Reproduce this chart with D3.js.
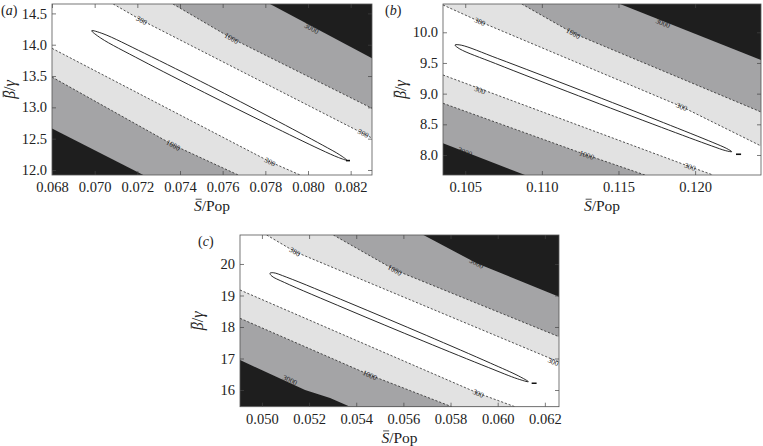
<!DOCTYPE html>
<html>
<head>
<meta charset="utf-8">
<script src="https://cdn.jsdelivr.net/npm/d3@7"></script>
<style>
body { margin: 0; background: #fff; }
</style>
</head>
<body>
<div id="fig"></div>
<script>
var svgWidth = 763;
var svgHeight = 446;
var serif = '"Liberation Serif", "Times New Roman", serif';

// ---------- panel (a) ----------
var xTicksA = [0.068, 0.070, 0.072, 0.074, 0.076, 0.078, 0.080, 0.082];
var yTicksA = [12.0, 12.5, 13.0, 13.5, 14.0, 14.5];
var xLimA = [0.068, 0.083];
var yLimA = [11.92, 14.65];
var lower3000A = [[0.068, 12.664], [0.07228, 11.92]];
var lower1000A = [[0.068, 13.484], [0.07369, 12.398], [0.07673, 11.92]];
var lower300A = [[0.068, 13.942], [0.07822, 12.131], [0.07963, 11.92]];
var upper300A = [[0.07087, 14.65], [0.07220, 14.39], [0.083, 12.51]];
var upper1000A = [[0.07367, 14.65], [0.07642, 14.102], [0.083, 12.984]];
var upper3000A = [[0.07822, 14.65], [0.083, 13.783]];
var ellipseA = [[0.069861, 14.2235], [0.070391, 14.1756], [0.072331, 13.864], [0.075331, 13.3529],
  [0.078303, 12.8289], [0.080670, 12.3992], [0.081491, 12.2411], [0.081814, 12.158],
  [0.081425, 12.1995], [0.080567, 12.3289], [0.078153, 12.7267], [0.075153, 13.2347],
  [0.072172, 13.7554], [0.070288, 14.1053]];
var markA = [[0.08178, 12.15], [0.08197, 12.15]];
var labelsA = [["300", 0.07220, 14.39, "upper300"], ["1000", 0.07642, 14.102, "upper1000"],
  ["3000", 0.08017, 14.262, "upper3000"], ["300", 0.08259, 12.585, "upper300"],
  ["1000", 0.07369, 12.398, "lower1000"], ["300", 0.07822, 12.131, "lower300"]];

// ---------- panel (b) ----------
var xTicksB = [0.105, 0.110, 0.115, 0.120];
var yTicksB = [8.0, 8.5, 9.0, 9.5, 10.0];
var xLimB = [0.10355, 0.1243];
var yLimB = [7.674, 10.461];
var lower3000B = [[0.10355, 8.191], [0.10890, 7.674]];
var lower1000B = [[0.10355, 8.843], [0.11293, 8.000], [0.11673, 7.674]];
var lower300B = [[0.10355, 9.304], [0.11967, 7.809], [0.12117, 7.674]];
var upper300B = [[0.10355, 10.445], [0.10596, 10.173], [0.11913, 8.787], [0.1243, 8.147]];
var upper1000B = [[0.10869, 10.461], [0.11205, 9.984], [0.1243, 8.701]];
var upper3000B = [[0.1151, 10.461], [0.1243, 9.548]];
var ellipseB = [[0.10433, 9.793], [0.10474, 9.790], [0.10711, 9.574], [0.11253, 9.056],
  [0.11793, 8.528], [0.12116, 8.204], [0.12206, 8.106], [0.12239, 8.054],
  [0.12200, 8.070], [0.12108, 8.148], [0.11781, 8.450], [0.11239, 8.965],
  [0.10698, 9.490], [0.10465, 9.728]];
var markB = [[0.12267, 8.012], [0.12300, 8.012]];
var labelsB = [["300", 0.10596, 10.173, "upper300"], ["1000", 0.11205, 9.984, "upper1000"],
  ["3000", 0.11791, 10.151, "upper3000"], ["300", 0.11913, 8.787, "upper300"],
  ["300", 0.10596, 9.059, "lower300"], ["1000", 0.11293, 8.000, "lower1000"],
  ["300", 0.11967, 7.809, "lower300"], ["3000", 0.10499, 8.052, "lower3000"]];

// ---------- panel (c) ----------
var xTicksC = [0.050, 0.052, 0.054, 0.056, 0.058, 0.060, 0.062];
var yTicksC = [16, 17, 18, 19, 20];
var xLimC = [0.04907, 0.0626];
var yLimC = [15.47, 20.92];
var lower3000C = [[0.04907, 16.952], [0.05183, 15.999], [0.05289, 15.745], [0.05374, 15.47]];
var lower1000C = [[0.04907, 18.276], [0.05458, 16.476], [0.05805, 15.47]];
var lower300C = [[0.04907, 19.174], [0.05918, 15.895], [0.06073, 15.47]];
var upper300C = [[0.05020, 20.92], [0.05140, 20.39], [0.0626, 16.888]];
var upper1000C = [[0.05303, 20.92], [0.05564, 19.809], [0.0626, 17.691]];
var upper3000C = [[0.05685, 20.92], [0.05911, 20.022], [0.0626, 18.961]];
var ellipseC = [[0.05034, 19.704], [0.05048, 19.723], [0.05105, 19.580], [0.05369, 18.771],
  [0.05697, 17.736], [0.05970, 16.850], [0.06089, 16.444], [0.06130, 16.263],
  [0.06084, 16.355], [0.05962, 16.710], [0.05687, 17.545], [0.05357, 18.574],
  [0.05095, 19.415], [0.05042, 19.615]];
var markC = [[0.06144, 16.212], [0.06165, 16.212]];
var labelsC = [["300", 0.05140, 20.39, "upper300"], ["1000", 0.05564, 19.809, "upper1000"],
  ["3000", 0.05911, 20.022, "upper3000"], ["300", 0.06236, 16.898, "upper300"],
  ["1000", 0.05458, 16.476, "lower1000"], ["300", 0.05918, 15.895, "lower300"],
  ["3000", 0.05119, 16.317, "lower3000"]];

// outer band -> inner band
var levels = ["3000", "1000", "300"];
var bandColors = ["#a4a4a6", "#e2e2e2", "#ffffff"];

var panels = [
  {tag: "a", tagX: 1, box: [52, 4, 372, 175], xLim: xLimA, yLim: yLimA, xTicks: xTicksA, yTicks: yTicksA,
   yFmt: ".1f", lines: {lower3000: lower3000A, lower1000: lower1000A, lower300: lower300A,
   upper300: upper300A, upper1000: upper1000A, upper3000: upper3000A},
   ellipse: ellipseA, mark: markA, labels: labelsA},
  {tag: "b", tagX: 385, box: [443, 4, 761, 175], xLim: xLimB, yLim: yLimB, xTicks: xTicksB, yTicks: yTicksB,
   yFmt: ".1f", lines: {lower3000: lower3000B, lower1000: lower1000B, lower300: lower300B,
   upper300: upper300B, upper1000: upper1000B, upper3000: upper3000B},
   ellipse: ellipseB, mark: markB, labels: labelsB},
  {tag: "c", tagX: 198, box: [240, 235, 559, 406.7], xLim: xLimC, yLim: yLimC, xTicks: xTicksC, yTicks: yTicksC,
   yFmt: "d", lines: {lower3000: lower3000C, lower1000: lower1000C, lower300: lower300C,
   upper300: upper300C, upper1000: upper1000C, upper3000: upper3000C},
   ellipse: ellipseC, mark: markC, labels: labelsC}
];

var svg = d3.select("#fig")
    .append("svg")
    .attr("width", svgWidth)
    .attr("height", svgHeight)
    .style("font-family", serif);

// overline drawn over the first glyph of a text element
function overline(parent, textSel, idx) {
    var b = textSel.node().getExtentOfChar(idx);
    parent.append("line")
        .attr("x1", b.x + b.width * 0.22).attr("x2", b.x + b.width * 1.0)
        .attr("y1", b.y + b.height * 0.13).attr("y2", b.y + b.height * 0.13)
        .attr("stroke", "#222").attr("stroke-width", 0.8);
}

panels.forEach(function(p, i) {
    var left = p.box[0], top = p.box[1], right = p.box[2], bottom = p.box[3];
    var x = d3.scaleLinear().domain(p.xLim).range([left, right]);
    var y = d3.scaleLinear().domain(p.yLim).range([bottom, top]);
    var line = d3.line().x(d => x(d[0])).y(d => y(d[1]));

    svg.append("clipPath").attr("id", "clip" + i)
      .append("rect")
        .attr("x", left).attr("y", top)
        .attr("width", right - left).attr("height", bottom - top);

    var plot = svg.append("g").attr("clip-path", "url(#clip" + i + ")");

    // outermost region
    plot.append("rect")
        .attr("x", left).attr("y", top)
        .attr("width", right - left).attr("height", bottom - top)
        .attr("fill", "#1e1e1e");

    // filled bands between lower and upper contour of each level
    levels.forEach(function(lv, k) {
        var poly = p.lines["lower" + lv]
            .concat([[p.xLim[1], p.yLim[0]]])
            .concat(p.lines["upper" + lv].slice().reverse())
            .concat([[p.xLim[0], p.yLim[1]]]);
        plot.append("path")
            .attr("d", line(poly) + "Z")
            .attr("fill", bandColors[k]);
    });

    // dashed contour lines
    ["lower1000", "lower300", "upper300", "upper1000"].forEach(function(key) {
        plot.append("path")
            .attr("d", line(p.lines[key]))
            .attr("fill", "none")
            .attr("stroke", "#2a2a2a")
            .attr("stroke-width", 0.8)
            .attr("stroke-dasharray", "2.2,1.8");
    });

    // contour labels
    p.labels.forEach(function(lb) {
        var pts = p.lines[lb[3]].map(d => [x(d[0]), y(d[1])]);
        var px = x(lb[1]), py = y(lb[2]);
        var j = 0;
        while (j < pts.length - 2 && px > pts[j + 1][0]) j++;
        var ang = Math.atan2(pts[j + 1][1] - pts[j][1], pts[j + 1][0] - pts[j][0]) * 180 / Math.PI;
        plot.append("text")
            .attr("transform", `translate(${px}, ${py}) rotate(${ang})`)
            .attr("text-anchor", "middle")
            .attr("dy", "0.35em")
            .attr("font-size", "7.5px")
            .attr("fill", "#222")
            .style("font-family", serif)
            .text(lb[0]);
    });

    // 95% region
    plot.append("path")
        .attr("d", d3.line().x(d => x(d[0])).y(d => y(d[1])).curve(d3.curveCatmullRomClosed.alpha(0.5))(p.ellipse))
        .attr("fill", "none")
        .attr("stroke", "#111")
        .attr("stroke-width", 0.9);

    plot.append("path")
        .attr("d", line(p.mark))
        .attr("stroke", "#111")
        .attr("stroke-width", 1.6);

    // axes
    var fx = d3.format(".3f"), fy = d3.format(p.yFmt);
    var gx = svg.append("g").attr("transform", `translate(0, ${bottom})`)
        .call(d3.axisBottom(x).tickValues(p.xTicks).tickFormat(fx).tickSizeInner(-4).tickSizeOuter(0).tickPadding(7));
    var gxt = svg.append("g").attr("transform", `translate(0, ${top})`)
        .call(d3.axisTop(x).tickValues(p.xTicks).tickFormat("").tickSizeInner(-4).tickSizeOuter(0));
    var gy = svg.append("g").attr("transform", `translate(${left}, 0)`)
        .call(d3.axisLeft(y).tickValues(p.yTicks).tickFormat(fy).tickSizeInner(-4).tickSizeOuter(0).tickPadding(5));
    var gyr = svg.append("g").attr("transform", `translate(${right}, 0)`)
        .call(d3.axisRight(y).tickValues(p.yTicks).tickFormat("").tickSizeInner(-4).tickSizeOuter(0));
    [gx, gxt, gy, gyr].forEach(function(a) {
        a.attr("font-family", null);
        a.select(".domain").remove();
        a.selectAll("line").attr("stroke", "#444").attr("stroke-width", 0.7);
        a.selectAll("text").attr("font-size", "14.5px").attr("fill", "#222")
            .style("font-family", serif);
    });

    svg.append("rect")
        .attr("x", left).attr("y", top)
        .attr("width", right - left).attr("height", bottom - top)
        .attr("fill", "none")
        .attr("stroke", "#555")
        .attr("stroke-width", 0.8);

    // x label
    var xg = svg.append("g");
    var xl = xg.append("text")
        .attr("x", (left + right) / 2)
        .attr("y", bottom + 36)
        .attr("text-anchor", "middle")
        .attr("font-size", "15.5px")
        .attr("fill", "#222")
        .style("font-family", serif);
    xl.append("tspan").attr("font-style", "italic").text("S");
    xl.append("tspan").text("/Pop");
    overline(xg, xl, 0);

    // y label
    var yg = svg.append("g")
        .attr("transform", `translate(${left - 37}, ${(top + bottom) / 2}) rotate(-90)`);
    var yl = yg.append("text")
        .attr("text-anchor", "middle")
        .attr("font-size", "16px")
        .attr("fill", "#222")
        .style("font-family", serif);
    yl.append("tspan").attr("font-style", "italic").text("β");
    yl.append("tspan").text("/");
    yl.append("tspan").attr("font-style", "italic").text("γ");
    overline(yg, yl, 0);

    // panel tag
    var tg = svg.append("text")
        .attr("x", p.tagX)
        .attr("y", top + 11)
        .attr("font-size", "14px")
        .attr("fill", "#222")
        .style("font-family", serif);
    tg.append("tspan").text("(");
    tg.append("tspan").attr("font-style", "italic").text(p.tag);
    tg.append("tspan").text(")");
});
</script>
</body>
</html>
